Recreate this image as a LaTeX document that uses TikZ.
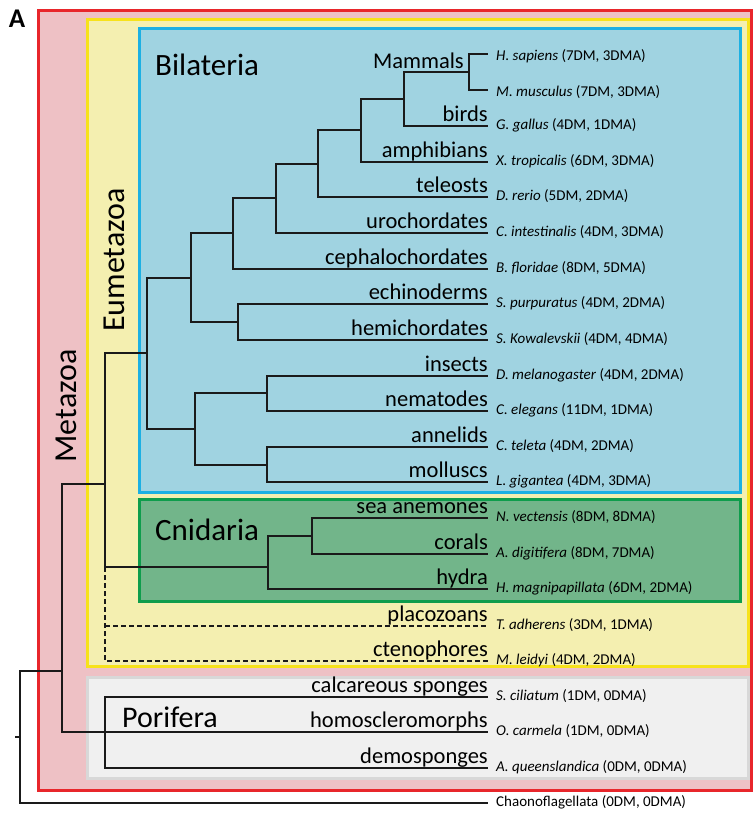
\documentclass[tikz,border=0pt]{standalone}
\usepackage{fontspec}
\setmainfont{Carlito}
\definecolor{redB}{HTML}{E8262B}
\definecolor{pinkF}{HTML}{EEC1C5}
\definecolor{yelB}{HTML}{F7E21A}
\definecolor{yelF}{HTML}{F4EFB0}
\definecolor{bluB}{HTML}{1CB0E3}
\definecolor{bluF}{HTML}{A0D3E1}
\definecolor{grnB}{HTML}{0E9D4C}
\definecolor{grnF}{HTML}{72B58A}
\definecolor{gryB}{HTML}{D8D8D8}
\definecolor{gryF}{HTML}{F0F0F0}
\definecolor{treeC}{HTML}{1A1A1A}
\tikzset{
  cladebox/.style={line width=3pt},
  branch/.style={draw=treeC, line width=1.2pt},
  dbranch/.style={branch, dash pattern=on 5pt off 3pt},
  cladename/.style={font=\fontsize{22.5}{27}\selectfont, anchor=base east, inner sep=0pt},
  species/.style={font=\fontsize{15}{18}\selectfont, anchor=base west, inner sep=0pt},
  bigname/.style={font=\fontsize{31}{36}\selectfont, anchor=base west, inner sep=0pt},
  rotname/.style={font=\fontsize{32}{36}\selectfont, rotate=90, inner sep=0pt},
}
\begin{document}
\begin{tikzpicture}[x=1pt,y=-1pt]
\useasboundingbox (0,0) rectangle (753,815);
\fill[white] (0,0) rectangle (753,815);
% clade boxes
\draw[cladebox, draw=redB, fill=pinkF] (38,10) rectangle (751.5,790);
\draw[cladebox, draw=yelB, fill=yelF] (87,19) rectangle (748,666.5);
\draw[cladebox, draw=bluB, fill=bluF] (139,28) rectangle (740,492);
\draw[cladebox, draw=grnB, fill=grnF] (139,499.5) rectangle (740,601);
\draw[cladebox, draw=gryB, fill=gryF] (87,677.5) rectangle (748,778);
% big labels
\node[font=\fontsize{27}{30}\selectfont\bfseries, inner sep=0pt] (A) at (17,19) {A};
\node[bigname] (Bil) at (155,75) {Bilateria};
\node[bigname] (Cni) at (155,540) {Cnidaria};
\node[bigname, font=\fontsize{30}{36}\selectfont] (Por) at (122,727) {Porifera};
\node[rotname] (Met) at (66,406) {Metazoa};
\node[rotname] (Eum) at (114,260) {Eumetazoa};
% tips
\coordinate (hs) at (488,54);
\coordinate (mm) at (488,90);
\coordinate (gg) at (488,126);
\coordinate (xt) at (488,162);
\coordinate (dr) at (488,197);
\coordinate (ci) at (488,233);
\coordinate (bf) at (488,269);
\coordinate (sp) at (488,304);
\coordinate (sk) at (488,340);
\coordinate (dm) at (488,376);
\coordinate (ce) at (488,411);
\coordinate (ct) at (488,447);
\coordinate (lg) at (488,482);
\coordinate (nv) at (488,518);
\coordinate (ad) at (488,554);
\coordinate (hm) at (488,589);
\coordinate (ta) at (488,626);
\coordinate (ml) at (488,661);
\coordinate (sc) at (488,697);
\coordinate (oc) at (488,732);
\coordinate (aq) at (488,768);
\coordinate (ch) at (488,803);
% internal nodes
\coordinate (mam) at (469,72);
\coordinate (n1) at (404,99);
\coordinate (n2) at (361,130);
\coordinate (n3) at (318,164);
\coordinate (n4) at (276,198);
\coordinate (n5) at (233,233);
\coordinate (amb) at (238,322);
\coordinate (deut) at (191,278);
\coordinate (ecd) at (267,393);
\coordinate (lop) at (267,465);
\coordinate (pro) at (195,429);
\coordinate (bil) at (147,353);
\coordinate (cn1) at (312,536);
\coordinate (cni) at (268,567);
\coordinate (eum) at (105,484);
\coordinate (eumc) at (105,567);
\coordinate (por) at (105,732);
\coordinate (met) at (62,671);
\coordinate (root) at (20,737);
\coordinate (rootstub) at (15,737);
% branches
\draw[branch] (mam) |- (hs) (mam) |- (mm);
\draw[branch] (n1) |- (mam) (n1) |- (gg);
\draw[branch] (n2) |- (n1) (n2) |- (xt);
\draw[branch] (n3) |- (n2) (n3) |- (dr);
\draw[branch] (n4) |- (n3) (n4) |- (ci);
\draw[branch] (n5) |- (n4) (n5) |- (bf);
\draw[branch] (amb) |- (sp) (amb) |- (sk);
\draw[branch] (deut) |- (n5) (deut) |- (amb);
\draw[branch] (ecd) |- (dm) (ecd) |- (ce);
\draw[branch] (lop) |- (ct) (lop) |- (lg);
\draw[branch] (pro) |- (ecd) (pro) |- (lop);
\draw[branch] (bil) |- (deut) (bil) |- (pro);
\draw[branch] (cn1) |- (nv) (cn1) |- (ad);
\draw[branch] (cni) |- (cn1) (cni) |- (hm);
\draw[branch] (eum) |- (bil) (eum) |- (cni);
\draw[dbranch] (eumc) |- (ml);
\draw[dbranch] (eumc |- ta) -- (ta);
\draw[branch] (por) |- (sc) (por) |- (aq);
\draw[branch] (por) -- (oc);
\draw[branch] (met) |- (eum) (met) |- (por);
\draw[branch] (root) |- (met) (root) |- (ch);
\draw[branch] (rootstub) -- (root);
% clade names
\node[cladename] (lMam) at (464,68) {Mammals};
\node[cladename] (lgg) at ([yshift=4.5pt]gg) {birds};
\node[cladename] (lxt) at ([yshift=4.5pt]xt) {amphibians};
\node[cladename] (ldr) at ([yshift=4.5pt]dr) {teleosts};
\node[cladename] (lci) at ([yshift=4.5pt]ci) {urochordates};
\node[cladename] (lbf) at ([yshift=4.5pt]bf) {cephalochordates};
\node[cladename] (lsp) at ([yshift=4.5pt]sp) {echinoderms};
\node[cladename] (lsk) at ([yshift=4.5pt]sk) {hemichordates};
\node[cladename] (ldm) at ([yshift=4.5pt]dm) {insects};
\node[cladename] (lce) at ([yshift=4.5pt]ce) {nematodes};
\node[cladename] (lct) at ([yshift=4.5pt]ct) {annelids};
\node[cladename] (llg) at ([yshift=4.5pt]lg) {molluscs};
\node[cladename] (lnv) at ([yshift=4.5pt]nv) {sea anemones};
\node[cladename] (lad) at ([yshift=4.5pt]ad) {corals};
\node[cladename] (lhm) at ([yshift=4.5pt]hm) {hydra};
\node[cladename] (lta) at ([yshift=4.5pt]ta) {placozoans};
\node[cladename] (lml) at ([yshift=4.5pt]ml) {ctenophores};
\node[cladename] (lsc) at ([yshift=4.5pt]sc) {calcareous sponges};
\node[cladename] (loc) at ([yshift=4.5pt]oc) {homoscleromorphs};
\node[cladename] (laq) at ([yshift=4.5pt]aq) {demosponges};
% species
\node[species] (shs) at ([xshift=8pt,yshift=-6pt]hs) {\textit{H. sapiens} (7DM, 3DMA)};
\node[species] (smm) at ([xshift=8pt,yshift=-6pt]mm) {\textit{M. musculus} (7DM, 3DMA)};
\node[species] (sgg) at ([xshift=8pt,yshift=-3.5pt]gg) {\textit{G. gallus} (4DM, 1DMA)};
\node[species] (sxt) at ([xshift=8pt,yshift=-3.5pt]xt) {\textit{X. tropicalis} (6DM, 3DMA)};
\node[species] (sdr) at ([xshift=8pt,yshift=-3.5pt]dr) {\textit{D. rerio} (5DM, 2DMA)};
\node[species] (sci) at ([xshift=8pt,yshift=-3.5pt]ci) {\textit{C. intestinalis} (4DM, 3DMA)};
\node[species] (sbf) at ([xshift=8pt,yshift=-3.5pt]bf) {\textit{B. floridae} (8DM, 5DMA)};
\node[species] (ssp) at ([xshift=8pt,yshift=-3.5pt]sp) {\textit{S. purpuratus} (4DM, 2DMA)};
\node[species] (ssk) at ([xshift=8pt,yshift=-3.5pt]sk) {\textit{S. Kowalevskii} (4DM, 4DMA)};
\node[species] (sdm) at ([xshift=8pt,yshift=-3.5pt]dm) {\textit{D. melanogaster} (4DM, 2DMA)};
\node[species] (sce) at ([xshift=8pt,yshift=-3.5pt]ce) {\textit{C. elegans} (11DM, 1DMA)};
\node[species] (sct) at ([xshift=8pt,yshift=-3.5pt]ct) {\textit{C. teleta} (4DM, 2DMA)};
\node[species] (slg) at ([xshift=8pt,yshift=-3.5pt]lg) {\textit{L. gigantea} (4DM, 3DMA)};
\node[species] (snv) at ([xshift=8pt,yshift=-3.5pt]nv) {\textit{N. vectensis} (8DM, 8DMA)};
\node[species] (sad) at ([xshift=8pt,yshift=-3.5pt]ad) {\textit{A. digitifera} (8DM, 7DMA)};
\node[species] (shm) at ([xshift=8pt,yshift=-3.5pt]hm) {\textit{H. magnipapillata} (6DM, 2DMA)};
\node[species] (sta) at ([xshift=8pt,yshift=-3.5pt]ta) {\textit{T. adherens} (3DM, 1DMA)};
\node[species] (sml) at ([xshift=8pt,yshift=-3.5pt]ml) {\textit{M. leidyi} (4DM, 2DMA)};
\node[species] (ssc) at ([xshift=8pt,yshift=-3.5pt]sc) {\textit{S. ciliatum} (1DM, 0DMA)};
\node[species] (soc) at ([xshift=8pt,yshift=-3.5pt]oc) {\textit{O. carmela} (1DM, 0DMA)};
\node[species] (saq) at ([xshift=8pt,yshift=-3.5pt]aq) {\textit{A. queenslandica} (0DM, 0DMA)};
\node[species] (sch) at ([xshift=8pt,yshift=-3.5pt]ch) {Chaonoflagellata (0DM, 0DMA)};
\end{tikzpicture}
\end{document}
